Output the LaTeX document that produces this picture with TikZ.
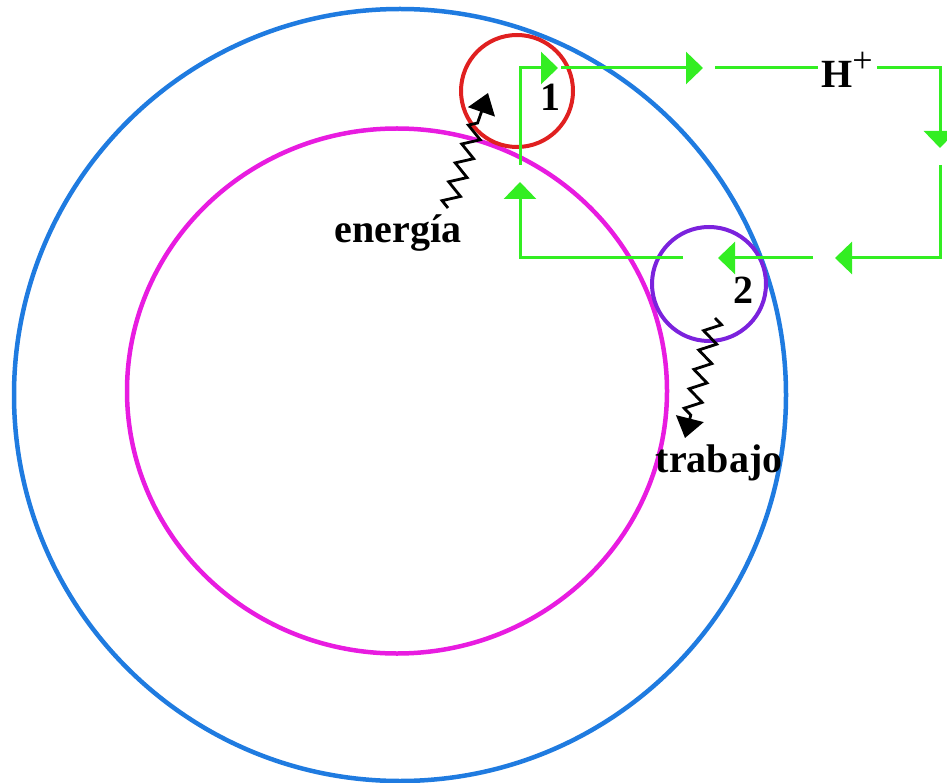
\documentclass[tikz,border=0pt]{standalone}
\usepackage{fontspec}
\setmainfont{Liberation Serif}
\usetikzlibrary{arrows.meta, shapes.geometric, decorations.pathmorphing}
\definecolor{cellBlue}{HTML}{1F7BE0}
\definecolor{memPink}{HTML}{E81CE0}
\definecolor{siteRed}{HTML}{E02020}
\definecolor{sitePurple}{HTML}{7B22DD}
\definecolor{protonGreen}{HTML}{33EE22}
\tikzset{
  scene/.style = {
    x=1pt, y=-1pt,
    font=\bfseries\fontsize{40}{44}\selectfont,
  },
  ring/.style = {
    draw=#1, line width=4.5pt, inner sep=0pt, outer sep=0pt,
  },
  site/.style = {
    circle, draw=#1, line width=4pt, inner sep=0pt, minimum size=112pt,
  },
  flux/.style = {
    draw=protonGreen, line width=3pt,
    -{Triangle[length=17pt, width=32pt]},
  },
  plainflux/.style = {draw=protonGreen, line width=3pt},
  wave/.style = {
    draw=black, line width=2.8pt, decorate,
    decoration={zigzag, segment length=20pt, amplitude=8pt, post length=22pt},
    -{Triangle[length=20pt, width=28pt]},
  },
  lbl/.style = {inner sep=0pt, text=black},
}
\newcommand{\ionplus}{\raisebox{0.36em}{\mdseries\fontsize{36}{36}\selectfont+}}

\begin{document}
\begin{tikzpicture}[scene]
\useasboundingbox (0,0) rectangle (947,783);

% cell and inner membrane
\node[ring=cellBlue, circle, minimum size=772pt] (cell) at (400,395) {};
\node[ring=memPink, ellipse, minimum width=540pt, minimum height=525pt] (mem) at (397,391) {};

% the two sites
\node[site=siteRed] (s1) at (517,91) {};
\node[site=sitePurple, minimum size=114pt] (s2) at (709,284) {};
\node[lbl] (n1) at (550,97) {1};
\node[lbl] (n2) at (743,290) {2};

% labels
\node[lbl] (hion) at (847,70) {H\ionplus};
\node[lbl] (energia) at (398,233) {energía};
\node[lbl] (trabajo) at (719,463) {trabajo};

% proton circuit
\coordinate (lt) at (520,68);
\coordinate (rt) at (940,68);
\coordinate (rb) at (940,258);
\coordinate (lb) at (520,258);
\coordinate (a0) at (520,165);
\coordinate (a1) at (558,68);
\coordinate (b0) at (561,68);
\coordinate (b1) at (703,68);
\coordinate (c0) at (715,68);
\coordinate (c1) at (818,68);
\coordinate (d0) at (877,68);
\coordinate (d1) at (940,148);
\coordinate (e0) at (940,165);
\coordinate (e1) at (835,258);
\coordinate (f0) at (813,258);
\coordinate (f1) at (718,258);
\coordinate (g0) at (683,258);
\coordinate (g1) at (520,182);

\draw[flux] (a0) -- (lt) -- (a1);
\draw[flux] (b0) -- (b1);
\draw[plainflux] (c0) -- (c1);
\draw[flux] (d0) -- (rt) -- (d1);
\draw[flux] (e0) -- (rb) -- (e1);
\draw[flux] (f0) -- (f1);
\draw[flux] (g0) -- (lb) -- (g1);

% energy in, work out
\coordinate (ein0) at (448,208);
\coordinate (ein1) at (488,93);
\coordinate (wout0) at (715,318);
\coordinate (wout1) at (685,438);
\draw[wave] (ein0) -- (ein1);
\draw[wave] (wout0) -- (wout1);

\end{tikzpicture}
\end{document}
